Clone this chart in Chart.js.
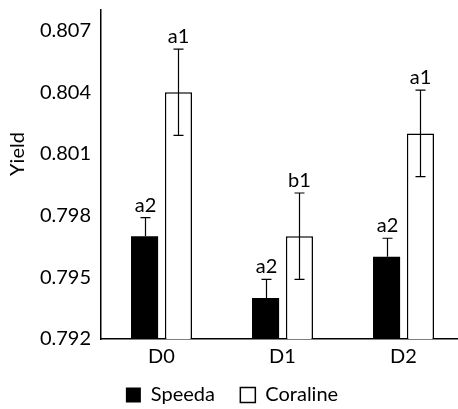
<!DOCTYPE html>
<html>
<head>
<meta charset="utf-8">
<script src="https://cdn.jsdelivr.net/npm/chart.js@4"></script>
<style>
  html, body { margin: 0; padding: 0; background: #fff; overflow: hidden; }
  #wrap { width: 464px; height: 409px; }
</style>
</head>
<body>
<div id="wrap"><canvas id="grafico"></canvas></div>
<script>
// dados
const categories = ["D0", "D1", "D2"];
const speeda = [0.797, 0.794, 0.796];
const speedaErr = [0.0009, 0.0009, 0.0009];
const coraline = [0.804, 0.797, 0.802];
const coralineErr = [0.0021, 0.0021, 0.0021];
const speedaLetters = ["a2", "a2", "a2"];
const coralineLetters = ["a1", "b1", "a1"];
const yTicks = [0.792, 0.795, 0.798, 0.801, 0.804, 0.807];

const FONT = "Lato, 'Liberation Sans', sans-serif";
const FSIZE = 20;

// barras de erro + letras
const errorBars = {
  id: "errorBars",
  afterDatasetsDraw(chart) {
    const ctx = chart.ctx;
    const y = chart.scales.y;
    const sets = [
      { vals: speeda, err: speedaErr, letters: speedaLetters, both: false },
      { vals: coraline, err: coralineErr, letters: coralineLetters, both: true },
    ];
    ctx.save();
    ctx.strokeStyle = "#000";
    ctx.lineWidth = 1.2;
    ctx.fillStyle = "#000";
    ctx.font = FSIZE + "px " + FONT;
    ctx.textAlign = "center";
    ctx.textBaseline = "alphabetic";
    sets.forEach((s, di) => {
      const meta = chart.getDatasetMeta(di);
      meta.data.forEach((bar, i) => {
        const x = Math.round(bar.x) + 0.5;
        const top = y.getPixelForValue(s.vals[i] + s.err[i]);
        const bot = s.both ? y.getPixelForValue(s.vals[i] - s.err[i]) : bar.y;
        ctx.beginPath();
        ctx.moveTo(x, top);
        ctx.lineTo(x, bot);
        ctx.moveTo(x - 5, top);
        ctx.lineTo(x + 5, top);
        if (s.both) {
          ctx.moveTo(x - 5, bot);
          ctx.lineTo(x + 5, bot);
        }
        ctx.stroke();
        ctx.fillText(s.letters[i], x, top - 6);
      });
    });
    ctx.restore();
  },
};

function graphc() {
  const ctx = document.getElementById("grafico").getContext("2d");

  const data = {
    labels: categories,
    datasets: [
      {
        label: "Speeda",
        data: speeda,
        backgroundColor: "#000",
        borderColor: "#000",
        borderWidth: 0,
        base: 0.792,
      },
      {
        label: "Coraline",
        data: coraline,
        backgroundColor: "#fff",
        borderColor: "#000",
        borderWidth: 1.5,
        base: 0.792,
      },
    ],
  };

  const config = {
    type: "bar",
    data: data,
    options: {
      responsive: true,
      maintainAspectRatio: false,
      animation: false,
      categoryPercentage: 0.56,
      barPercentage: 0.8,
      layout: { padding: { top: 10, right: 0, bottom: -6, left: 0 } },
      plugins: {
        tooltip: { enabled: false },
        legend: {
          position: "bottom",
          labels: {
            color: "#000",
            font: { family: FONT, size: FSIZE },
            boxWidth: 15,
            boxHeight: 15,
            padding: 10,
            // espaço extra entre os itens da legenda
            generateLabels(chart) {
              const items = Chart.defaults.plugins.legend.labels.generateLabels(chart);
              items[0].text = items[0].text + "   ";
              return items;
            },
          },
        },
      },
      scales: {
        x: {
          grid: { display: false, drawTicks: false },
          border: { display: true, color: "#000", width: 1.5 },
          ticks: { color: "#000", font: { family: FONT, size: FSIZE }, padding: 6 },
        },
        y: {
          min: 0.792,
          max: 0.808,
          afterBuildTicks(scale) {
            scale.ticks = yTicks.map((v) => ({ value: v }));
          },
          afterFit(scale) {
            scale.width = 101;
            scale.paddingTop = 0;
          },
          grid: { display: false, drawTicks: false },
          border: { display: true, color: "#000", width: 1.5 },
          ticks: {
            color: "#000",
            font: { family: FONT, size: FSIZE },
            padding: 10,
            callback: (v) => Number(v).toFixed(3),
          },
          title: {
            display: true,
            text: "        Yield",
            color: "#000",
            font: { family: FONT, size: FSIZE },
            padding: { top: 6, bottom: 4 },
          },
        },
      },
    },
    plugins: [errorBars],
  };

  new Chart(ctx, config);
}

graphc();
</script>
</body>
</html>
